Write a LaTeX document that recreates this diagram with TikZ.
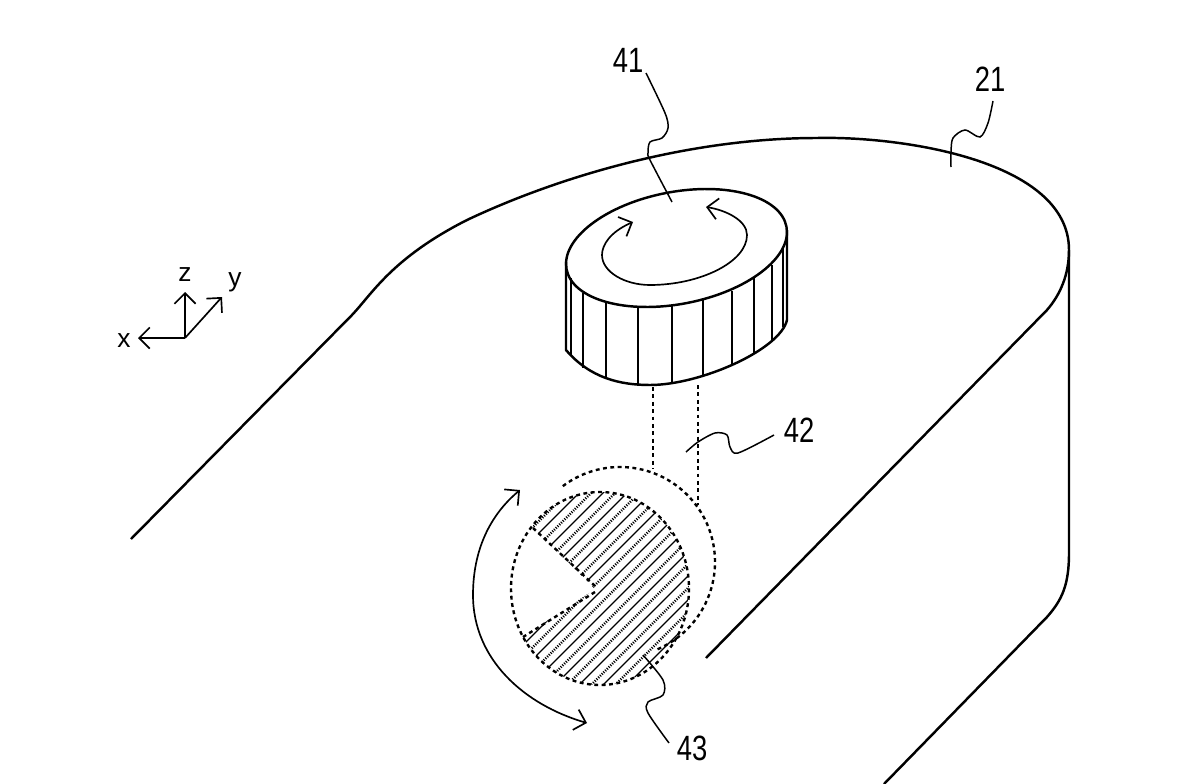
\documentclass[tikz,border=0pt]{standalone}
\usepackage{fontspec}
\setmainfont{Liberation Sans}
\usepackage{tikz}
\usetikzlibrary{arrows.meta}
\tikzset{
	outline/.style={line width=1.4pt, line join=round},
	leader/.style={line width=0.85pt},
	hidden/.style={line width=1.35pt, dash pattern=on 2.2pt off 2pt},
	hatchsolid/.style={line width=0.75pt},
	hatchdots/.style={line width=1.4pt, dash pattern=on 0.6pt off 0.8pt},
	barb/.style={line width=0.95pt, arrows={-Straight Barb[length=6pt,width=12pt]}},
	twobarb/.style={line width=0.95pt, arrows={Straight Barb[length=6pt,width=12pt]-Straight Barb[length=6pt,width=12pt]}},
	numlabel/.style={font=\fontsize{20}{20}\selectfont, inner sep=0pt, transform shape, xscale=0.78},
	axislabel/.style={font=\fontsize{15}{15}\selectfont, inner sep=0pt}
}
\begin{document}
\begin{tikzpicture}[x=0.02cm,y=-0.02cm]
	\useasboundingbox (0,0) rectangle (1200,784);
	
	% casing
	\draw[outline] (131,539) -- (352,315) .. controls (372,294) and (392,258) .. (467,220) .. controls (560,176) and (690,138) .. (817,138) .. controls (900,136) and (1069,160) .. (1069,250) -- (1069,553) .. controls (1069,585) and (1062,600) .. (1047,617) -- (884,784);
	\draw[outline] (1069,250) .. controls (1069,275) and (1060,295) .. (1047,310) -- (706,658);
	
	% knob
	\coordinate (knobtop) at (676.5,248);
	\draw[outline, rotate around={11:(knobtop)}] (knobtop) ellipse [x radius=112, y radius=56];
	\draw[outline] (566,262) -- (566,350) .. controls (590,378) and (620,385) .. (650,385) .. controls (700,385) and (780,350) .. (787,320) -- (787,230);
	\foreach \x/\ya/\yb in {571/278/355, 583/293/368, 606/303/379, 638/307/385, 672/306/383, 703/300/376, 732/291/366, 754/278/354, 772/265/341, 783/247/327}
		\draw[outline] (\x,\ya) -- (\x,\yb);
	\draw[twobarb] (633,222) .. controls (610,232) and (602,245) .. (602,255) .. controls (602,272) and (625,285) .. (650,285) .. controls (700,285) and (747,262) .. (747,235) .. controls (747,220) and (725,210) .. (706,207);
	
	% shaft
	\draw[hidden] (653,387) -- (653,469);
	\draw[hidden] (698,385) -- (698,505);
	
	% disc
	\coordinate (disc) at (620,562);
	\draw[hidden] (disc) ++(-127:95) arc [start angle=-127, end angle=67, radius=95];
	\coordinate (pie) at (600,588.5);
	\begin{scope}
		\clip (595,589) -- (533,528) -- (533,470) -- (730,470) -- (730,710) -- (500,710) -- (523,637) -- cycle;
		\clip (pie) ellipse [x radius=89, y radius=96.5];
		\foreach \s [count=\i] in {1048,1060,...,1320} {
			\ifodd\i
				\draw[hatchsolid] (\s-470,470) -- (\s-710,710);
			\else
				\draw[hatchdots] (\s-470,470) -- (\s-710,710);
			\fi
		}
	\end{scope}
	\draw[hidden] (pie) ellipse [x radius=89, y radius=96.5];
	\draw[hidden] (533,528) -- (595,586);
	\draw[hidden] (595,592) -- (523,637);
	\draw[twobarb] (520,490) .. controls (490,515) and (473,550) .. (473,595) .. controls (473,660) and (525,705) .. (587,723);
	
	% axes
	\coordinate (origin) at (185,338);
	\node[axislabel] (xlabel) at (124,341) {x};
	\node[axislabel] (zlabel) at (185,275) {z};
	\node[axislabel] (ylabel) at (235,282) {y};
	\draw[barb] (origin) -- (138,338);
	\draw[barb] (origin) -- (185,292);
	\draw[barb] (origin) -- (222,297);
	
	% reference numerals
	\node[numlabel] (num41) at (628,60) {41};
	\node[numlabel] (num21) at (990,79) {21};
	\node[numlabel] (num42) at (799,430) {42};
	\node[numlabel] (num43) at (692,748) {43};
	\draw[leader] plot[smooth] coordinates {(646,73) (665,113) (668,128) (662,138) (650,142) (648,153) (650,160) (672,202)};
	\draw[leader] plot[smooth] coordinates {(993,101) (988,123) (980,137) (965,130) (953,138) (951,152) (951,167)};
	\draw[leader] plot[smooth] coordinates {(774,435) (738,453) (730,447) (727,435) (715,433) (698,442) (686,452)};
	\draw[leader] plot[smooth] coordinates {(643,655) (663,680) (663,695) (648,702) (648,713) (669,743)};
	
\end{tikzpicture}
\end{document}
